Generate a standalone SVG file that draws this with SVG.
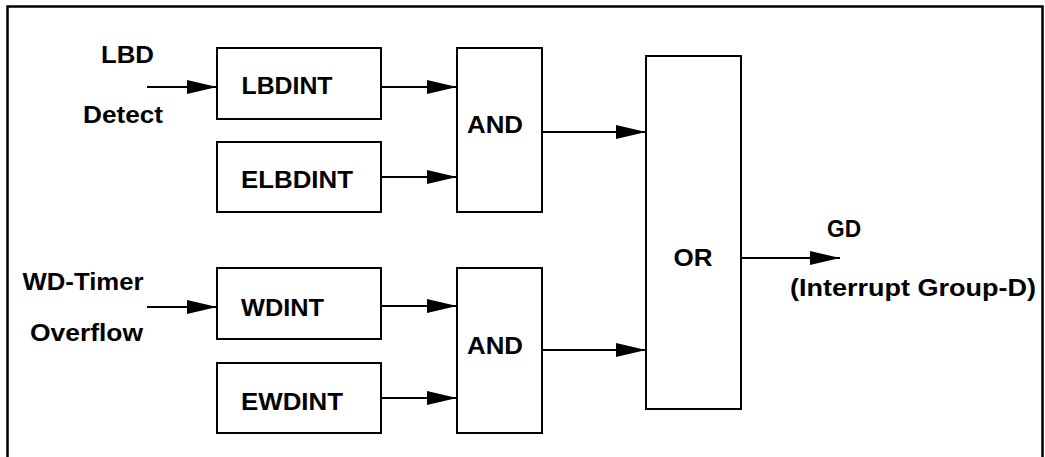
<svg xmlns="http://www.w3.org/2000/svg" width="1045" height="457" viewBox="0 0 1045 457">
<style>
.box{fill:#fff;stroke:#000;stroke-width:2}
.wire{stroke:#000;stroke-width:2;fill:none}
text{font-family:"Liberation Sans",Arial,sans-serif;font-weight:bold;font-size:24px;fill:#000}
</style>
<defs>
<marker id="ah" viewBox="0 0 30 14" refX="30" refY="7" markerWidth="30" markerHeight="14" markerUnits="userSpaceOnUse" orient="auto">
<path d="M0,0 L30,7 L0,14 z" fill="#000"/>
</marker>
</defs>
<rect width="1045" height="457" fill="#fff"/>
<path d="M7.5,457 V6.5 H1042.5 V457" fill="none" stroke="#000" stroke-width="2.5"/>
<g id="labels-in">
<text x="101" y="63" textLength="53" lengthAdjust="spacingAndGlyphs">LBD</text>
<text x="83" y="122.5" textLength="80" lengthAdjust="spacingAndGlyphs">Detect</text>
<text x="22.5" y="290" textLength="121" lengthAdjust="spacingAndGlyphs">WD-Timer</text>
<text x="30" y="341" textLength="113" lengthAdjust="spacingAndGlyphs">Overflow</text>
</g>
<g id="lbdint"><rect class="box" x="217" y="48" width="164" height="71"/><text x="241.5" y="93.5" textLength="91" lengthAdjust="spacingAndGlyphs">LBDINT</text></g>
<g id="elbdint"><rect class="box" x="217" y="142" width="164" height="70"/><text x="241" y="188" textLength="112" lengthAdjust="spacingAndGlyphs">ELBDINT</text></g>
<g id="wdint"><rect class="box" x="217" y="268" width="164" height="71"/><text x="241" y="316" textLength="83" lengthAdjust="spacingAndGlyphs">WDINT</text></g>
<g id="ewdint"><rect class="box" x="217" y="363" width="164" height="70"/><text x="241" y="410" textLength="102" lengthAdjust="spacingAndGlyphs">EWDINT</text></g>
<g id="and1"><rect class="box" x="457" y="48" width="85" height="164"/><text x="467" y="133" textLength="56" lengthAdjust="spacingAndGlyphs">AND</text></g>
<g id="and2"><rect class="box" x="457" y="268" width="85" height="165"/><text x="467" y="354" textLength="56" lengthAdjust="spacingAndGlyphs">AND</text></g>
<g id="or"><rect class="box" x="646" y="56" width="95" height="353"/><text x="673.5" y="266" textLength="39" lengthAdjust="spacingAndGlyphs">OR</text></g>
<g id="out">
<text x="827" y="237" textLength="34" lengthAdjust="spacingAndGlyphs">GD</text>
<text x="790" y="296" textLength="246" lengthAdjust="spacingAndGlyphs">(Interrupt Group-D)</text>
</g>
<g id="connectors" class="wire">
<line x1="147" y1="87" x2="217" y2="87" marker-end="url(#ah)"/>
<line x1="381" y1="87" x2="457" y2="87" marker-end="url(#ah)"/>
<line x1="381" y1="177" x2="457" y2="177" marker-end="url(#ah)"/>
<line x1="543" y1="132" x2="646" y2="132" marker-end="url(#ah)"/>
<line x1="147" y1="307" x2="217" y2="307" marker-end="url(#ah)"/>
<line x1="381" y1="306" x2="457" y2="306" marker-end="url(#ah)"/>
<line x1="381" y1="398" x2="457" y2="398" marker-end="url(#ah)"/>
<line x1="542" y1="350" x2="646" y2="350" marker-end="url(#ah)"/>
<line x1="741" y1="258" x2="840" y2="258" marker-end="url(#ah)"/>
</g>
</svg>
